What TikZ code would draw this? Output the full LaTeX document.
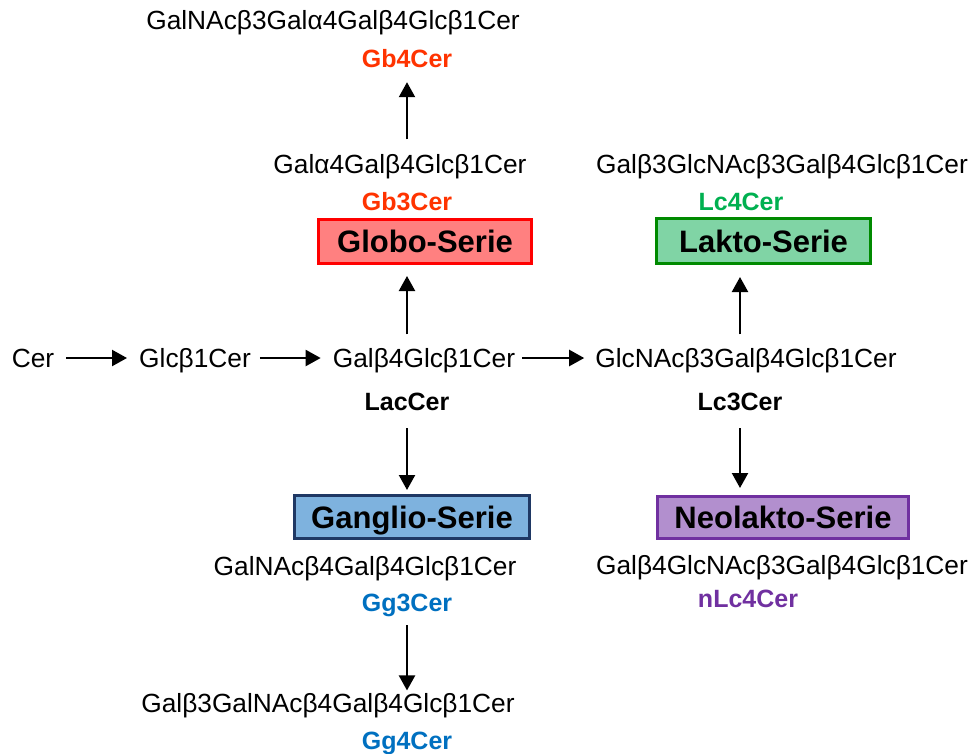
\documentclass[tikz,border=0pt]{standalone}
\usepackage{fontspec}
\setmainfont{Liberation Sans}
\usetikzlibrary{arrows.meta}
\definecolor{gbred}{RGB}{255,51,0}
\definecolor{globofill}{RGB}{255,128,128}
\definecolor{globoline}{RGB}{255,0,0}
\definecolor{laktofill}{RGB}{128,212,165}
\definecolor{laktoline}{RGB}{0,138,0}
\definecolor{lcgreen}{RGB}{0,176,80}
\definecolor{gangfill}{RGB}{126,178,222}
\definecolor{gangline}{RGB}{31,56,100}
\definecolor{ggblue}{RGB}{0,112,192}
\definecolor{neofill}{RGB}{178,143,206}
\definecolor{neoline}{RGB}{112,48,160}
\tikzset{
  txt/.style={inner sep=0pt, font=\fontsize{26.3}{30}\selectfont, text height=18.7pt, text depth=0pt},
  lbl/.style={inner sep=0pt, font=\fontsize{25}{30}\selectfont\bfseries, text height=18pt, text depth=0pt},
  serie/.style={draw, line width=3pt, inner sep=0pt, font=\fontsize{31}{36}\selectfont\bfseries, text height=22.3pt, text depth=0pt},
  arr/.style={line width=2.2pt, -{Triangle[length=15pt,width=16pt]}}
}
\begin{document}
\begin{tikzpicture}[x=1pt,y=-1pt]
\useasboundingbox (0,0) rectangle (975,753);
% main row
\node[txt] (cer) at (33,358) {Cer};
\node[txt] (glc) at (195,358) {Glcβ1Cer};
\node[txt] (gal) at (424,358) {Galβ4Glcβ1Cer};
\node[txt] (glcnac) at (746,358) {GlcNAcβ3Galβ4Glcβ1Cer};
\node[lbl] (lac) at (407,401) {LacCer};
\node[lbl] (lc3) at (740,401) {Lc3Cer};
% globo
\node[serie, fill=globofill, draw=globoline, minimum width=213pt, minimum height=44pt] (globo) at (425,241.5) {Globo-Serie};
\node[lbl, text=gbred] (gb3) at (407,201) {Gb3Cer};
\node[txt] (gb3s) at (400,164) {Galα4Galβ4Glcβ1Cer};
\node[lbl, text=gbred] (gb4) at (407,58) {Gb4Cer};
\node[txt] (gb4s) at (333,20) {GalNAcβ3Galα4Galβ4Glcβ1Cer};
% lakto
\node[serie, fill=laktofill, draw=laktoline, minimum width=214pt, minimum height=45pt] (lakto) at (763.5,241) {Lakto-Serie};
\node[lbl, text=lcgreen] (lc4) at (741,201) {Lc4Cer};
\node[txt] (lc4s) at (782,164) {Galβ3GlcNAcβ3Galβ4Glcβ1Cer};
% ganglio
\node[serie, fill=gangfill, draw=gangline, minimum width=235pt, minimum height=43pt] (gang) at (412,517) {Ganglio-Serie};
\node[txt] (gg3s) at (365,566) {GalNAcβ4Galβ4Glcβ1Cer};
\node[lbl, text=ggblue] (gg3) at (407,602) {Gg3Cer};
\node[txt] (gg4s) at (328,703) {Galβ3GalNAcβ4Galβ4Glcβ1Cer};
\node[lbl, text=ggblue] (gg4) at (407,740) {Gg4Cer};
% neolakto
\node[serie, fill=neofill, draw=neoline, minimum width=251pt, minimum height=42pt] (neo) at (783,517.5) {Neolakto-Serie};
\node[txt] (nlc4s) at (782,565) {Galβ4GlcNAcβ3Galβ4Glcβ1Cer};
\node[lbl, text=neoline] (nlc4) at (748,598) {nLc4Cer};
% arrows
\draw[arr, shorten <=12pt, shorten >=12pt] (cer.east) -- (glc.west);
\draw[arr, shorten <=9pt, shorten >=12pt] (glc.east) -- (gal.west);
\draw[arr, shorten <=7pt, shorten >=11pt] (gal.east) -- (glcnac.west);
\draw[arr, shorten <=14pt, shorten >=11pt] (gal.north -| lac) -- (globo.south -| lac);
\draw[arr, shorten <=15pt, shorten >=15pt] (gb3s.north -| gb3) -- (gb4.south);
\draw[arr, shorten <=14pt, shorten >=12pt] (glcnac.north -| lc3) -- (lakto.south -| lc3);
\draw[arr, shorten <=18pt, shorten >=4pt] (lac.south) -- (gang.north -| lac);
\draw[arr, shorten <=18pt, shorten >=7pt] (lc3.south) -- (neo.north -| lc3);
\draw[arr, shorten <=14pt, shorten >=3pt] (gg3.south) -- (gg4s.north -| gg3);
\end{tikzpicture}
\end{document}
